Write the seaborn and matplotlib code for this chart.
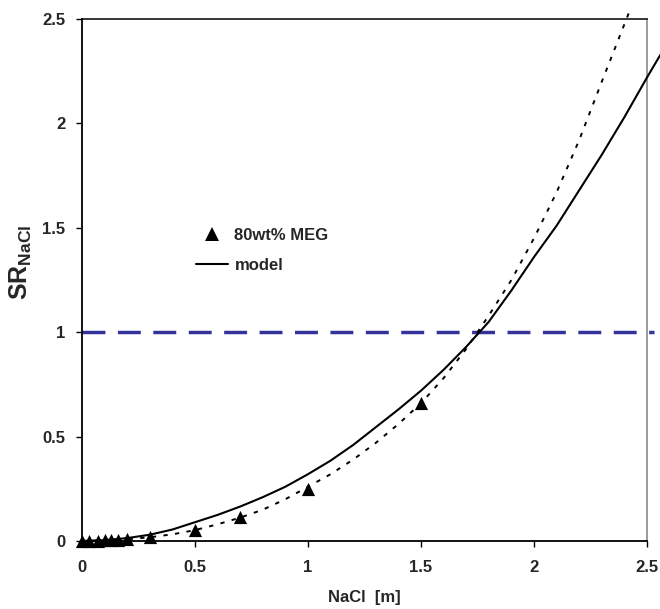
import matplotlib
matplotlib.use("Agg")
import matplotlib.pyplot as plt
from matplotlib.lines import Line2D
import seaborn as sns
import pandas as pd

# NaCl molality [m] and measured saturation ratio (80 wt% MEG)
exp_nacl = [0, 0.03, 0.07, 0.1, 0.13, 0.16, 0.2, 0.3, 0.5, 0.7, 1.0, 1.5]
exp_sr = [0, 0.001, 0.002, 0.003, 0.004, 0.006, 0.008, 0.017, 0.055, 0.115, 0.25, 0.66]

# model curve
model_nacl = [0, 0.1, 0.2, 0.3, 0.4, 0.5, 0.6, 0.7, 0.8, 0.9, 1.0, 1.1, 1.2, 1.3,
              1.4, 1.5, 1.6, 1.7, 1.8, 1.9, 2.0, 2.1, 2.2, 2.3, 2.4, 2.5, 2.56]
model_sr = [0, 0.004, 0.014, 0.03, 0.055, 0.09, 0.125, 0.165, 0.21, 0.26, 0.32,
            0.385, 0.46, 0.545, 0.63, 0.72, 0.82, 0.93, 1.05, 1.2, 1.36, 1.51,
            1.68, 1.85, 2.03, 2.22, 2.33]

# dotted trend through the measurements
trend_nacl = [0, 0.1, 0.2, 0.3, 0.4, 0.5, 0.6, 0.7, 0.8, 0.9, 1.0, 1.1, 1.2, 1.3,
              1.4, 1.5, 1.6, 1.7, 1.8, 1.9, 2.0, 2.1, 2.2, 2.3, 2.42]
trend_sr = [0, 0.002, 0.008, 0.018, 0.032, 0.052, 0.08, 0.112, 0.15, 0.2, 0.26,
            0.32, 0.39, 0.47, 0.56, 0.66, 0.78, 0.92, 1.08, 1.25, 1.45, 1.67,
            1.92, 2.2, 2.53]

# saturation limit SR = 1
limit_nacl = [0, 2.53]
limit_sr = [1, 1]

ticks = [0, 0.5, 1, 1.5, 2, 2.5]
tick_labels = ["0", "0.5", "1", "1.5", "2", "2.5"]

sns.set_style("white")
plt.rcParams["font.family"] = ["Liberation Sans", "DejaVu Sans"]
plt.rcParams["font.weight"] = "bold"
plt.rcParams["mathtext.fontset"] = "custom"
plt.rcParams["mathtext.bf"] = "Liberation Sans:bold"
plt.rcParams["mathtext.rm"] = "Liberation Sans:bold"

fig = plt.figure(figsize=(6.6, 6.09), dpi=100)
ax = fig.add_axes([82 / 660, 1 - 541 / 609, 565 / 660, 522 / 609])

df_model = pd.DataFrame({"x": model_nacl, "y": model_sr})
df_trend = pd.DataFrame({"x": trend_nacl, "y": trend_sr})
df_exp = pd.DataFrame({"x": exp_nacl, "y": exp_sr})
df_lim = pd.DataFrame({"x": limit_nacl, "y": limit_sr})

sns.lineplot(data=df_lim, x="x", y="y", ax=ax, color="#333399", lw=2.5,
             sort=False, estimator=None, clip_on=False, zorder=2)
ax.lines[-1].set_dashes((6.6, 3.6))

sns.lineplot(data=df_trend, x="x", y="y", ax=ax, color="black", lw=1.4,
             sort=False, estimator=None, clip_on=False, zorder=3)
ax.lines[-1].set_dashes((2.2, 3.8))

sns.lineplot(data=df_model, x="x", y="y", ax=ax, color="black", lw=1.5,
             sort=False, estimator=None, clip_on=False, zorder=4)

sns.scatterplot(data=df_exp, x="x", y="y", ax=ax, marker="^", s=90,
                color="black", linewidth=0, clip_on=False, zorder=5)

ax.set_xlim(0, 2.5)
ax.set_ylim(0, 2.5)
ax.set_xticks(ticks)
ax.set_xticklabels(tick_labels)
ax.set_yticks(ticks)
ax.set_yticklabels(tick_labels)
ax.tick_params(axis="both", direction="out", length=4, width=1,
               labelsize=12, color="black")
ax.tick_params(axis="x", pad=10, bottom=True)
ax.tick_params(axis="y", pad=8, left=True)
for lab in ax.get_xticklabels() + ax.get_yticklabels():
    lab.set_fontweight("bold")

for side in ["left", "bottom", "top"]:
    ax.spines[side].set_color("black")
    ax.spines[side].set_linewidth(1.3)
ax.spines["top"].set_linewidth(1.1)
ax.spines["right"].set_color("#808080")
ax.spines["right"].set_linewidth(1.1)

ax.set_xlabel("NaCl  [m]", fontsize=12, fontweight="bold")
ax.xaxis.label.set(va="center")
ax.xaxis.set_label_coords(0.5, -0.109)
ax.set_ylabel(r"$\mathbf{SR_{NaCl}}$", fontsize=18)
ax.yaxis.label.set(va="center", ha="center", rotation_mode="default")
ax.yaxis.set_label_coords(-0.108, 0.534)

handles = [
    Line2D([], [], marker="^", linestyle="none", color="black", markersize=9.5,
           markeredgewidth=0),
    Line2D([], [], color="black", lw=1.5),
]
leg = ax.legend(handles, ["80wt% MEG", "model"], loc="upper left",
                bbox_to_anchor=(0.202, 0.60), frameon=False, borderpad=0,
                borderaxespad=0, handlelength=1.9, handletextpad=0.4,
                labelspacing=0.9, prop={"weight": "bold", "size": 12})

fig.savefig("out.png", dpi=100)
